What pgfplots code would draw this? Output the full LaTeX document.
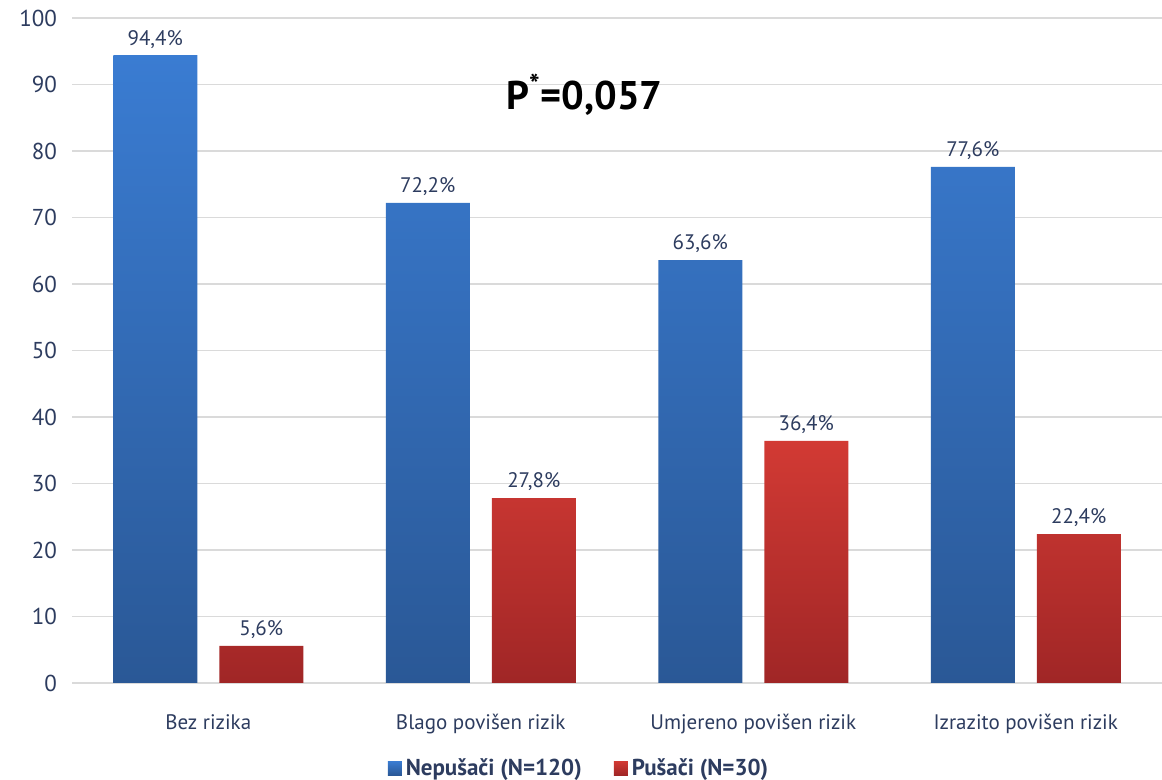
\documentclass[border=0pt]{standalone}
\usepackage{pgfplots}
\pgfplotsset{compat=1.18}
\usepackage{fontspec}
\setmainfont{PT Sans}
\definecolor{bluetop}{RGB}{58,124,210}
\definecolor{bluebot}{RGB}{42,88,150}
\definecolor{redtop}{RGB}{210,58,52}
\definecolor{redbot}{RGB}{160,38,38}
\definecolor{txt}{RGB}{45,60,95}
\definecolor{gridc}{RGB}{218,218,218}
\begin{document}
\begin{tikzpicture}
\useasboundingbox (0,0) rectangle (581pt,390pt);
\begin{axis}[
  at={(36pt,48.5pt)}, anchor=south west,
  scale only axis, width=545pt, height=332.5pt,
  ybar=11pt, bar width=42pt,
  xmin=-0.5, xmax=3.5, ymin=0, ymax=100,
  ytick={0,10,...,100},
  xtick={0,1,2,3},
  xticklabels={Bez rizika, Blago povišen rizik, Umjereno povišen rizik, Izrazito povišen rizik},
  axis line style={draw=none},
  tick style={draw=none},
  ymajorgrids, grid style={gridc, line width=0.8pt},
  /pgf/number format/assume math mode=true,
  yticklabel style={font=\fontsize{11.5}{12}\selectfont, txt, xshift=-4pt},
  xticklabel style={font=\fontsize{10.5}{12}\selectfont, txt, yshift=-8pt},
  nodes near coords={\pgfmathprintnumber[use comma,fixed,precision=1,fixed zerofill]{\pgfplotspointmeta}\%},
  nodes near coords style={font=\fontsize{10.5}{12}\selectfont, txt, /pgf/number format/assume math mode=true},
  legend style={at={(0.466,-0.128)}, anchor=center, draw=none, fill=none,
    font=\bfseries\fontsize{11.5}{13}\selectfont, text=txt, legend columns=2,
    /tikz/every even column/.append style={column sep=14pt}},
  legend image code/.code={\fill[#1] (0pt,-3.5pt) rectangle (7pt,3.5pt);},
  clip=false,
]
\addplot[draw=none, top color=bluetop, bottom color=bluebot] coordinates {(0,94.4) (1,72.2) (2,63.6) (3,77.6)};
\addplot[draw=none, top color=redtop, bottom color=redbot] coordinates {(0,5.6) (1,27.8) (2,36.4) (3,22.4)};
\legend{Nepušači (N=120), Pušači (N=30)}
\node[font=\fontsize{20}{22}\selectfont\bfseries, black] at (axis cs:1.38,88.4) {P\textsuperscript{*}=0,057};
\end{axis}
\end{tikzpicture}
\end{document}
